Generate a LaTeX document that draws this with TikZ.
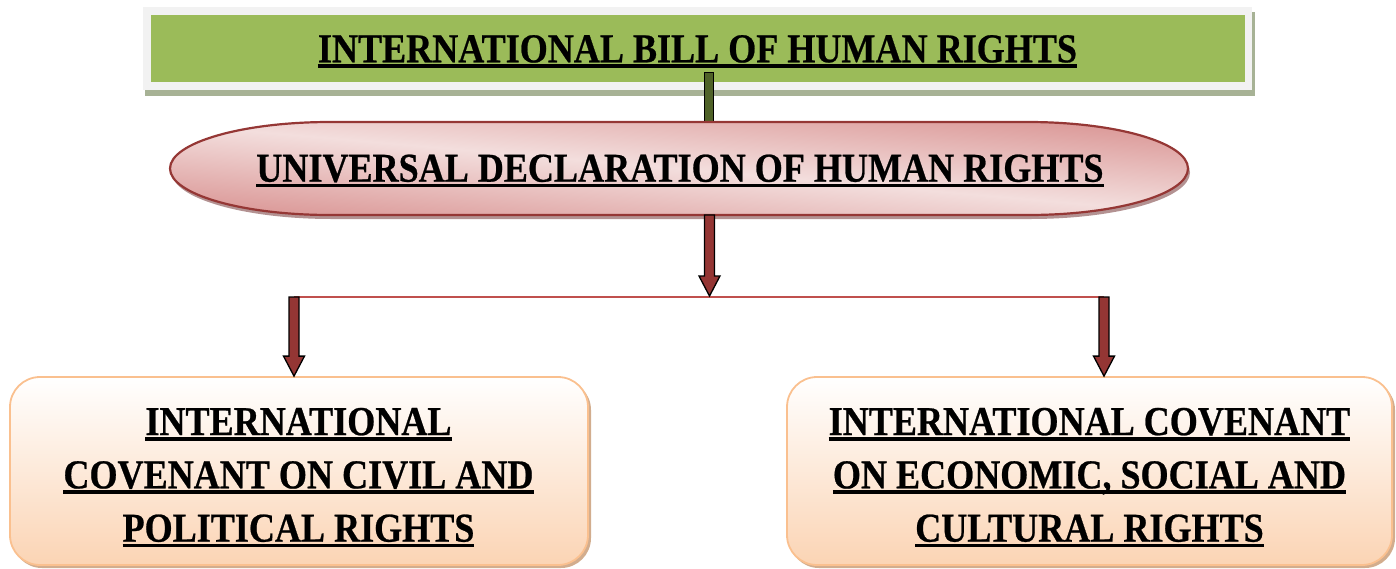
\documentclass[tikz,border=0pt]{standalone}
\usepackage{fontspec}
\newfontfamily\cam[FakeStretch=0.88,FakeBold=0.6]{Liberation Serif}
\usetikzlibrary{calc}
\definecolor{titlegreen}{HTML}{9BBB59}
\definecolor{framegray}{HTML}{F2F2F2}
\definecolor{greenshadow}{HTML}{A7B295}
\definecolor{bardark}{HTML}{4F6228}
\definecolor{udborder}{HTML}{953735}
\definecolor{udlight}{HTML}{F3DEDD}
\definecolor{uddark}{HTML}{D8908F}
\definecolor{udshadow}{HTML}{B39292}
\definecolor{arrowred}{HTML}{943634}
\definecolor{linered}{HTML}{C0504D}
\definecolor{peachborder}{HTML}{FAC08F}
\definecolor{peachfill}{HTML}{FBD4B4}
\definecolor{peachshadow}{HTML}{D2AD8E}
\newcommand\myul[1]{\setbox0=\hbox{#1}\rlap{\rule[-5.5pt]{\wd0}{3.6pt}}\box0}
\newcommand\blockarrow[2]{\draw[blockarrowstyle] let \p1=(#1), \p2=(#2) in
  (\x1-5pt,\y1) -- (\x1-5pt,\y2+20pt) -- (\x1-10.5pt,\y2+20pt) -- (\x2,\y2) --
  (\x1+10.5pt,\y2+20pt) -- (\x1+5pt,\y2+20pt) -- (\x1+5pt,\y1) -- cycle;}
\tikzset{
  labeltext/.style={font=\cam\bfseries\fontsize{41pt}{53.3pt}\selectfont, inner sep=0pt, align=center, text=black},
  blockarrowstyle/.style={draw=black, fill=arrowred, line width=1.3pt, line join=miter},
  covbox/.style={draw=peachborder, line width=1.8pt, rounded corners=30pt, top color=white, bottom color=peachfill, inner sep=0pt},
  covshadow/.style={fill=peachshadow, rounded corners=30pt},
}
\begin{document}
\begin{tikzpicture}[x=1pt,y=-1pt]
\useasboundingbox (0,0) rectangle (1396,568);

% --- title box
\fill[greenshadow] (145,12) rectangle (1255,96);
\fill[framegray] (143,7) rectangle (1252,90);
\node[fill=titlegreen, minimum width=1094.5pt, minimum height=67.5pt, inner sep=0pt] (bill) at (698,48.6) {};
\node[labeltext, anchor=base] (billtext) at (697.5,62.3) {\myul{INTERNATIONAL BILL OF HUMAN RIGHTS}};

% --- green connector
\coordinate (gtop) at (709.3,72.5);
\coordinate (gbot) at (709.3,123);
\draw[fill=bardark, line width=1.3pt] ($(gtop)+(-4.5,0)$) rectangle ($(gbot)+(4.5,0)$);

% --- declaration shape
\fill[udshadow] (332,126) -- (1030,126) arc[start angle=-90,end angle=90,x radius=160,y radius=46.5]
  -- (332,219) arc[start angle=90,end angle=270,x radius=160,y radius=46.5] -- cycle;
\begin{scope}
  \clip (330,122) -- (1028,122) arc[start angle=-90,end angle=90,x radius=160,y radius=46.5]
    -- (330,215) arc[start angle=90,end angle=270,x radius=160,y radius=46.5] -- cycle;
  \begin{scope}[transform canvas={rotate around={-5:(679,168.5)}}]
    \shade[top color=uddark, bottom color=uddark, middle color=udlight]
      (109,76.5) rectangle (1249,260.5);
  \end{scope}
\end{scope}
\draw[udborder, line width=2.2pt]
  (330,122) -- (1028,122) arc[start angle=-90,end angle=90,x radius=160,y radius=46.5]
  -- (330,215) arc[start angle=90,end angle=270,x radius=160,y radius=46.5] -- cycle;
\node[labeltext, anchor=base] (udhr) at (680,181.7) {\myul{UNIVERSAL DECLARATION OF HUMAN RIGHTS}};
\coordinate (udS) at (709.5,215);

% --- covenant boxes
\fill[covshadow] (12,380) rectangle (591,568);
\node[covbox, minimum width=578pt, minimum height=188pt] (iccpr) at (299,471) {};
\fill[covshadow] (789,380) rectangle (1395,568);
\node[covbox, minimum width=605pt, minimum height=188pt] (icescr) at (1089.5,471) {};

\node[labeltext] (iccprtext) at (298.5,477.5) {\myul{INTERNATIONAL}\\\myul{COVENANT ON CIVIL AND}\\\myul{POLITICAL RIGHTS}};
\node[labeltext] (icescrtext) at (1089.5,477.5) {\myul{INTERNATIONAL COVENANT}\\\myul{ON ECONOMIC, SOCIAL AND}\\\myul{CULTURAL RIGHTS}};

% --- connectors
\coordinate (split) at (709.5,296);
\coordinate (lsplit) at (294,297);
\coordinate (rsplit) at (1104,297);
\draw[linered, line width=2pt] (lsplit) -- (rsplit);
\blockarrow{udS}{split}
\blockarrow{lsplit}{lsplit |- iccpr.north}
\blockarrow{rsplit}{rsplit |- icescr.north}
\end{tikzpicture}
\end{document}
